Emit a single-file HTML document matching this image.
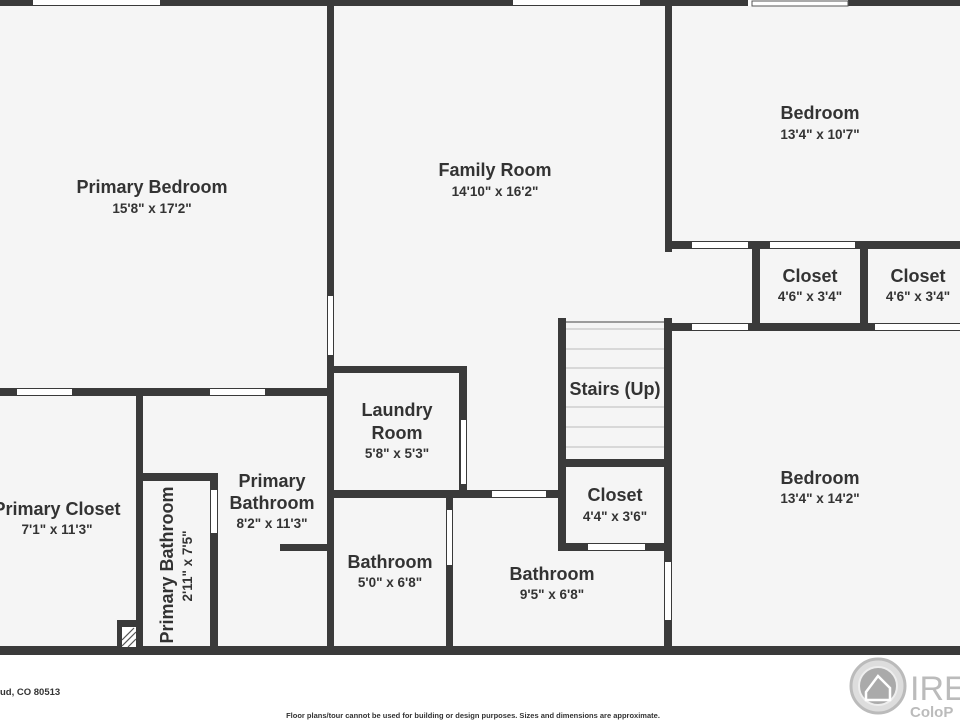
<!DOCTYPE html>
<html><head><meta charset="utf-8"><style>
html,body{margin:0;padding:0;background:#fff;}
svg{display:block;}
text{font-family:"Liberation Sans",sans-serif;fill:#333;text-anchor:middle;}
.l{font-size:18px;font-weight:bold;}
.d{font-size:13.5px;font-weight:bold;}
</style></head><body>
<svg width="960" height="720" viewBox="0 0 960 720" xmlns="http://www.w3.org/2000/svg">
<rect x="0" y="0" width="960" height="652" fill="#f5f5f5"/>
<g fill="#3a3a3a">
<rect x="0" y="0" width="960" height="6"/>
<rect x="0" y="646" width="960" height="9"/>
<rect x="327" y="0" width="7" height="652"/>
<rect x="665" y="0" width="7" height="252"/>
<rect x="665" y="241" width="295" height="8"/>
<rect x="752" y="241" width="8" height="90"/>
<rect x="860" y="241" width="8" height="90"/>
<rect x="665" y="323" width="295" height="8"/>
<rect x="558" y="318" width="8" height="233"/>
<rect x="664" y="318" width="8" height="334"/>
<rect x="558" y="459" width="114" height="8"/>
<rect x="558" y="543" width="114" height="8"/>
<rect x="330" y="366" width="137" height="7"/>
<rect x="459" y="366" width="8" height="131"/>
<rect x="330" y="490" width="236" height="8"/>
<rect x="446" y="494" width="7" height="158"/>
<rect x="0" y="388" width="330" height="8"/>
<rect x="136" y="392" width="7" height="260"/>
<rect x="143" y="473" width="75" height="8"/>
<rect x="210" y="473" width="8" height="179"/>
<rect x="280" y="544" width="50" height="7"/>
<rect x="117" y="620" width="26" height="30"/>
</g>
<g fill="#fff">
<rect x="33" y="0" width="127" height="5"/>
<rect x="513" y="0" width="127" height="5"/>
<rect x="748" y="0" width="100" height="6"/>
<rect x="328" y="296" width="5" height="59"/>
<rect x="692" y="242" width="56" height="6"/>
<rect x="770" y="242" width="85" height="6"/>
<rect x="692" y="324" width="56" height="6"/>
<rect x="875" y="324" width="85" height="6"/>
<rect x="17" y="389" width="55" height="6"/>
<rect x="210" y="389" width="55" height="6"/>
<rect x="461" y="420" width="5" height="64"/>
<rect x="492" y="491" width="54" height="6"/>
<rect x="447" y="510" width="5" height="55"/>
<rect x="211" y="490" width="6" height="43"/>
<rect x="588" y="544" width="57" height="6"/>
<rect x="665" y="562" width="6" height="58"/>
</g>
<rect x="752" y="1" width="96" height="5" fill="none" stroke="#555" stroke-width="1"/>
<rect x="122" y="627" width="14" height="20" fill="#fff"/>
<path d="M122 640 L134 628 M122 646 L136 632 M128 647 L136 639" stroke="#555" stroke-width="1.2"/>
<g stroke="#bbb" stroke-width="1">
<line x1="566" y1="322" x2="664" y2="322" stroke="#444"/>
<line x1="566" y1="329" x2="664" y2="329"/>
<line x1="566" y1="349" x2="664" y2="349"/>
<line x1="566" y1="368" x2="664" y2="368"/>
<line x1="566" y1="407" x2="664" y2="407"/>
<line x1="566" y1="427" x2="664" y2="427"/>
<line x1="566" y1="447" x2="664" y2="447"/>
</g>
<text class="l" x="152" y="193">Primary Bedroom</text><text class="d" x="152" y="213">15'8" x 17'2"</text>
<text class="l" x="495" y="176">Family Room</text><text class="d" x="495" y="196">14'10" x 16'2"</text>
<text class="l" x="820" y="119">Bedroom</text><text class="d" x="820" y="139">13'4" x 10'7"</text>
<text class="l" x="810" y="282">Closet</text><text class="d" x="810" y="301">4'6" x 3'4"</text>
<text class="l" x="918" y="282">Closet</text><text class="d" x="918" y="301">4'6" x 3'4"</text>
<rect x="569" y="378" width="92" height="20" fill="#f5f5f5"/>
<text class="l" x="615" y="395">Stairs (Up)</text>
<text class="l" x="397" y="416">Laundry</text><text class="l" x="397" y="439">Room</text><text class="d" x="397" y="458">5'8" x 5'3"</text>
<text class="l" x="57" y="515">Primary Closet</text><text class="d" x="57" y="534">7'1" x 11'3"</text>
<text class="l" x="272" y="487">Primary</text><text class="l" x="272" y="509">Bathroom</text><text class="d" x="272" y="528">8'2" x 11'3"</text>
<text class="l" x="390" y="568">Bathroom</text><text class="d" x="390" y="587">5'0" x 6'8"</text>
<text class="l" x="552" y="580">Bathroom</text><text class="d" x="552" y="599">9'5" x 6'8"</text>
<text class="l" x="615" y="501">Closet</text><text class="d" x="615" y="521">4'4" x 3'6"</text>
<text class="l" x="820" y="484">Bedroom</text><text class="d" x="820" y="503">13'4" x 14'2"</text>
<text class="l" transform="translate(173,565) rotate(-90)">Primary Bathroom</text>
<text class="d" transform="translate(192,566) rotate(-90)">2'11" x 7'5"</text>
<text x="0" y="695" style="font-size:9.5px;font-weight:bold;text-anchor:start;">ud, CO 80513</text>
<text x="473" y="718" style="font-size:7.5px;font-weight:bold;">Floor plans/tour cannot be used for building or design purposes. Sizes and dimensions are approximate.</text>
<circle cx="878" cy="686" r="27" fill="#ddd" stroke="#bbb" stroke-width="3"/>
<circle cx="878" cy="686" r="19" fill="#aaa" stroke="#eee" stroke-width="2"/>
<path d="M866 692 L878 676 L890 688 L890 700 L866 700 Z" fill="none" stroke="#fff" stroke-width="2.5"/>
<text x="910" y="700" style="font-size:34px;fill:#bbb;text-anchor:start;">IRE</text>
<text x="910" y="717" style="font-size:15px;fill:#bbb;font-weight:bold;text-anchor:start;">ColoP</text>
</svg>
</body></html>
